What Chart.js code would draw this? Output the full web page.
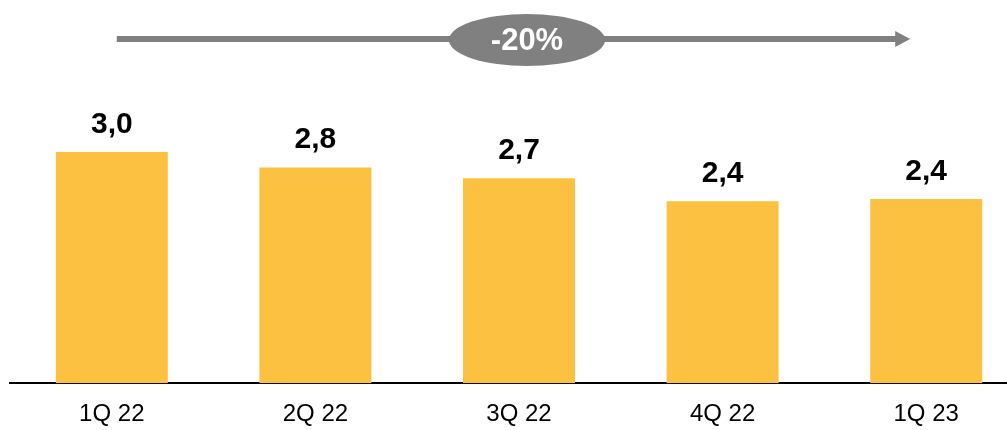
<!DOCTYPE html>
<html>
<head>
<meta charset="utf-8">
<script src="https://cdn.jsdelivr.net/npm/chart.js@4.4.1/dist/chart.umd.min.js"></script>
<style>
  html, body { margin: 0; padding: 0; background: #fff; overflow: hidden; }
  #wrap { width: 1030px; height: 452px; }
</style>
</head>
<body>
<div id="wrap"><canvas id="chart"></canvas></div>
<script>
const quarters = ['1Q 22', '2Q 22', '3Q 22', '4Q 22', '1Q 23'];
const values = [3.0, 2.8, 2.66, 2.36, 2.39];
const BAR_COLOR = '#FCC140';
const ARROW_COLOR = '#808080';

const fmt = v => v.toFixed(1).replace('.', ',');

// value labels above each bar
const valueLabels = {
  id: 'valueLabels',
  afterDatasetsDraw(chart) {
    const { ctx } = chart;
    const meta = chart.getDatasetMeta(0);
    ctx.save();
    ctx.font = 'bold 30px "Liberation Sans", Arial, sans-serif';
    ctx.fillStyle = '#000';
    ctx.textAlign = 'center';
    ctx.textBaseline = 'alphabetic';
    meta.data.forEach((bar, i) => {
      ctx.fillText(fmt(values[i]), bar.x, bar.y - 19);
    });
    ctx.restore();
  }
};

// trend arrow with the overall change in a bubble
const trendArrow = {
  id: 'trendArrow',
  afterDraw(chart) {
    const { ctx } = chart;
    const x = chart.scales.x;
    const x0 = x.getPixelForValue(0) + 5;
    const x1 = x.getPixelForValue(values.length - 1) - 16;
    const y = 39;
    ctx.save();
    ctx.fillStyle = ARROW_COLOR;
    ctx.fillRect(x0, y - 3, x1 - x0 - 12, 6);
    ctx.beginPath();
    ctx.moveTo(x1 - 15, y - 8);
    ctx.lineTo(x1, y);
    ctx.lineTo(x1 - 15, y + 8);
    ctx.closePath();
    ctx.fill();

    const cx = 527;
    ctx.beginPath();
    ctx.ellipse(cx, 40, 78, 26, 0, 0, Math.PI * 2);
    ctx.fill();

    const change = Math.round((values[values.length - 1] / values[0] - 1) * 100);
    ctx.fillStyle = '#fff';
    ctx.font = 'bold 31px "Liberation Sans Narrow", "Liberation Sans", Arial, sans-serif';
    ctx.textAlign = 'center';
    ctx.textBaseline = 'middle';
    ctx.fillText(change + '%', cx, 41);
    ctx.restore();
  }
};

new Chart(document.getElementById('chart'), {
  type: 'bar',
  data: {
    labels: quarters,
    datasets: [{
      data: values,
      backgroundColor: BAR_COLOR,
      borderWidth: 0,
      categoryPercentage: 1,
      barPercentage: 0.55
    }]
  },
  options: {
    responsive: true,
    maintainAspectRatio: false,
    animation: false,
    layout: { padding: { top: 75, bottom: 6, left: 10, right: 2 } },
    plugins: { legend: { display: false }, tooltip: { enabled: false } },
    scales: {
      x: {
        grid: { display: false, drawTicks: false },
        border: { display: true, color: '#000', width: 2 },
        ticks: {
          padding: 17,
          color: '#000',
          font: { family: '"Liberation Sans", Arial, sans-serif', size: 24 }
        }
      },
      y: {
        display: false,
        min: 0,
        max: 4
      }
    }
  },
  plugins: [valueLabels, trendArrow]
});
</script>
</body>
</html>
